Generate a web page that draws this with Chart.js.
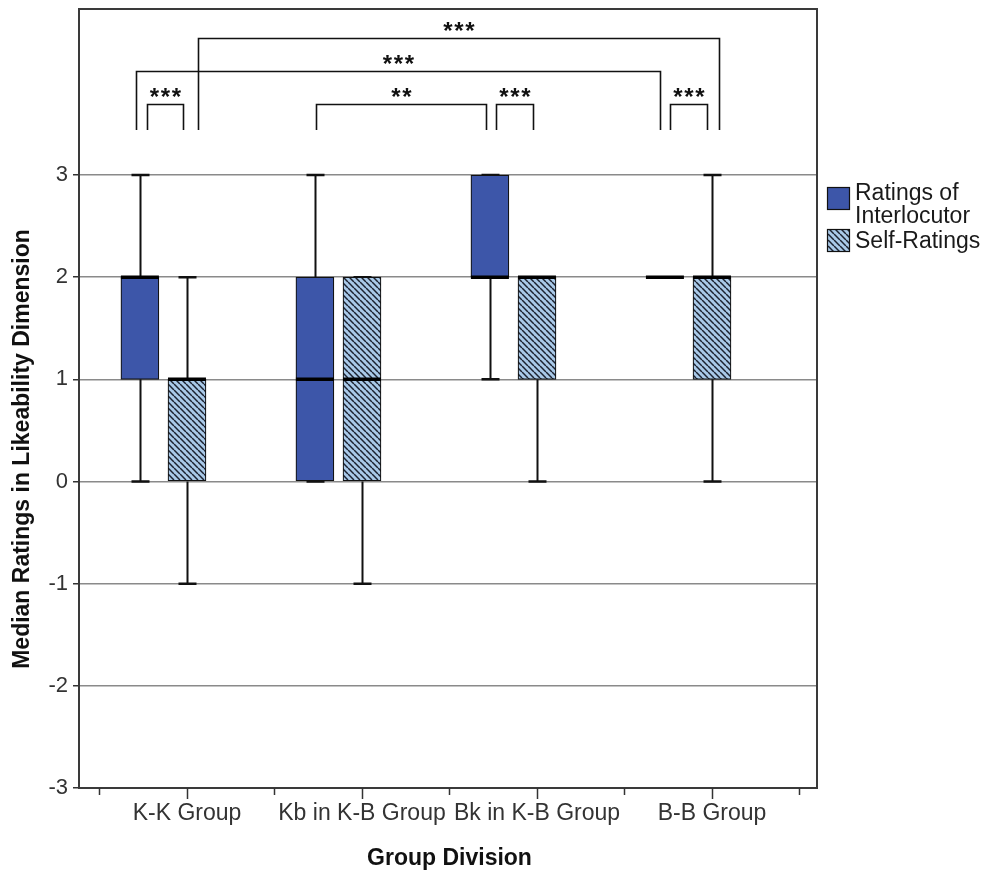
<!DOCTYPE html>
<html><head><meta charset="utf-8">
<script src="https://cdn.jsdelivr.net/npm/chart.js@4.4.1/dist/chart.umd.min.js"></script>
<style>html,body{margin:0;padding:0;background:#fff}#wrap{width:987px;height:870px;position:relative}</style>
</head><body><div id="wrap"><canvas id="c" width="987" height="870"></canvas></div>
<script>
// ---- data ----
const categories = ['K-K Group', 'Kb in K-B Group', 'Bk in K-B Group', 'B-B Group'];
const seriesNames = ['Ratings of Interlocutor', 'Self-Ratings'];
const interMin    = [0, 0, 1, 2];
const interQ1     = [1, 0, 2, 2];
const interMedian = [2, 1, 2, 2];
const interQ3     = [2, 2, 3, 2];
const interMax    = [3, 3, 3, 2];
const selfMin     = [-1, -1, 0, 0];
const selfQ1      = [0, 0, 1, 1];
const selfMedian  = [1, 1, 2, 2];
const selfQ3      = [1, 2, 2, 2];
const selfMax     = [2, 2, 2, 3];
const yTickValues = [-3, -2, -1, 0, 1, 2, 3];
// significance brackets (x in category units, y in rating units)
const bracketLeft   = [0.771, 0.709, 1.063, 1.737, 2.766, 3.760];
const bracketRight  = [0.977, 3.703, 4.040, 2.709, 2.977, 3.971];
const bracketTop    = [3.695, 4.018, 4.340, 3.695, 3.695, 3.695];
const bracketBottom = 3.44;
const bracketLabels = ['***', '***', '***', '**', '***', '***'];

// ---- styling ----
const FONT = '"Liberation Sans", Arial, Helvetica, sans-serif';
const BLUE = '#3d56a9';
const interOffset = -0.269;
const boxWidth = 38;

function makeHatch() {
  const s = 6;
  const c = document.createElement('canvas');
  c.width = s; c.height = s;
  const g = c.getContext('2d');
  g.fillStyle = '#a9c9e8';
  g.fillRect(0, 0, s, s);
  g.strokeStyle = '#1c2230';
  g.lineWidth = 1.5;
  for (const k of [-s, 0, s]) {
    g.beginPath(); g.moveTo(k, 0); g.lineTo(k + s, s); g.stroke();
  }
  return g.createPattern(c, 'repeat');
}
const HATCH = makeHatch();

const series = [
  { pos: i => i + 1 + interOffset, min: interMin, q1: interQ1, med: interMedian, q3: interQ3, max: interMax },
  { pos: i => i + 1, min: selfMin, q1: selfQ1, med: selfMedian, q3: selfQ3, max: selfMax }
];

const extras = {
  id: 'extras',
  beforeDatasetsDraw(chart) {
    const ctx = chart.ctx, xs = chart.scales.x, ys = chart.scales.y;
    ctx.save();
    ctx.strokeStyle = '#111';
    series.forEach(s => {
      categories.forEach((c, i) => {
        const x = Math.round(xs.getPixelForValue(s.pos(i))) + 0.5;
        ctx.lineWidth = 2;
        ctx.beginPath();
        if (s.min[i] < s.q1[i]) { ctx.moveTo(x, ys.getPixelForValue(s.min[i])); ctx.lineTo(x, ys.getPixelForValue(s.q1[i])); }
        if (s.max[i] > s.q3[i]) { ctx.moveTo(x, ys.getPixelForValue(s.q3[i])); ctx.lineTo(x, ys.getPixelForValue(s.max[i])); }
        ctx.stroke();
        ctx.lineWidth = 2.5;
        ctx.beginPath();
        [s.min[i], s.max[i]].forEach(v => {
          const y = ys.getPixelForValue(v);
          ctx.moveTo(x - 9, y); ctx.lineTo(x + 9, y);
        });
        ctx.stroke();
      });
    });
    ctx.restore();
  },
  afterDatasetsDraw(chart) {
    const ctx = chart.ctx, xs = chart.scales.x, ys = chart.scales.y;
    ctx.save();
    ctx.strokeStyle = '#000';
    ctx.lineWidth = 3.5;
    series.forEach(s => {
      categories.forEach((c, i) => {
        const x = xs.getPixelForValue(s.pos(i));
        const y = ys.getPixelForValue(s.med[i]);
        ctx.beginPath(); ctx.moveTo(x - boxWidth / 2, y); ctx.lineTo(x + boxWidth / 2, y); ctx.stroke();
      });
    });
    ctx.restore();
  },
  afterDraw(chart) {
    const ctx = chart.ctx, xs = chart.scales.x, ys = chart.scales.y, a = chart.chartArea;
    ctx.save();
    // frame
    ctx.strokeStyle = '#3a3a3a';
    ctx.lineWidth = 2;
    ctx.strokeRect(a.left, a.top, a.right - a.left, a.bottom - a.top);
    // x tick marks
    ctx.lineWidth = 1.5;
    ctx.strokeStyle = '#333';
    for (let v = 0.5; v <= 4.51; v += 0.5) {
      const x = Math.round(xs.getPixelForValue(v)) + 0.5;
      const len = Number.isInteger(v) ? 11 : 7;
      ctx.beginPath(); ctx.moveTo(x, a.bottom); ctx.lineTo(x, a.bottom + len); ctx.stroke();
    }
    // brackets
    ctx.strokeStyle = '#111';
    ctx.lineWidth = 1.6;
    ctx.fillStyle = '#111';
    ctx.font = 'bold 24px ' + FONT;
    ctx.textAlign = 'center';
    ctx.textBaseline = 'alphabetic';
    const m = ctx.measureText('*');
    const starShift = (m.actualBoundingBoxDescent - m.actualBoundingBoxAscent) / 2;
    bracketLabels.forEach((lab, k) => {
      const x1 = Math.round(xs.getPixelForValue(bracketLeft[k])) + 0.5;
      const x2 = Math.round(xs.getPixelForValue(bracketRight[k])) + 0.5;
      const yt = Math.round(ys.getPixelForValue(bracketTop[k])) + 0.5;
      const yb = ys.getPixelForValue(bracketBottom);
      ctx.beginPath();
      ctx.moveTo(x1, yb); ctx.lineTo(x1, yt); ctx.lineTo(x2, yt); ctx.lineTo(x2, yb);
      ctx.stroke();
      const cx = (x1 + x2) / 2, cy = yt - 12;
      const n = lab.length, sp = 11;
      for (let j = 0; j < n; j++) {
        ctx.fillText('*', cx + (j - (n - 1) / 2) * sp, cy - starShift);
      }
    });
    // axis titles
    ctx.fillStyle = '#111';
    ctx.font = 'bold 23px ' + FONT;
    ctx.textAlign = 'center';
    ctx.fillText('Group Division', 449.5, 865);
    ctx.save();
    ctx.translate(29, 449);
    ctx.rotate(-Math.PI / 2);
    ctx.fillText('Median Ratings in Likeability Dimension', 0, 0);
    ctx.restore();
    // legend
    ctx.lineWidth = 1.2;
    ctx.strokeStyle = '#111';
    ctx.fillStyle = BLUE;
    ctx.fillRect(827, 187, 23, 23);
    ctx.strokeRect(827.5, 187.5, 22, 22);
    ctx.fillStyle = HATCH;
    ctx.fillRect(827, 229, 23, 23);
    ctx.strokeRect(827.5, 229.5, 22, 22);
    ctx.fillStyle = '#1a1a1a';
    ctx.font = '23px ' + FONT;
    ctx.textAlign = 'left';
    ctx.fillText('Ratings of', 855, 200);
    ctx.fillText('Interlocutor', 855, 223);
    ctx.fillText(seriesNames[1], 855, 248);
    ctx.restore();
  }
};

new Chart(document.getElementById('c'), {
  type: 'bar',
  data: {
    datasets: [
      {
        label: seriesNames[0],
        data: categories.map((c, i) => ({ x: i + 1 + interOffset, y: [interQ1[i], interQ3[i]] })),
        backgroundColor: BLUE, borderColor: '#111', borderWidth: 1.2, borderSkipped: false
      },
      {
        label: seriesNames[1],
        data: categories.map((c, i) => ({ x: i + 1, y: [selfQ1[i], selfQ3[i]] })),
        backgroundColor: HATCH, borderColor: '#111', borderWidth: 1.2, borderSkipped: false
      }
    ]
  },
  options: {
    responsive: false,
    devicePixelRatio: 1,
    animation: false,
    grouped: false,
    barThickness: boxWidth,
    layout: { padding: { left: 0, right: 170, top: 9, bottom: 0 } },
    plugins: { legend: { display: false }, tooltip: { enabled: false } },
    scales: {
      x: {
        type: 'linear', min: 0.383, max: 4.6, offset: false,
        afterFit(s) { s.height = 82; s.paddingLeft = 0; s.paddingRight = 0; },
        grid: { drawOnChartArea: false, tickLength: 8, tickColor: 'transparent', offset: false },
        border: { display: false },
        ticks: {
          stepSize: 0.5, includeBounds: false, autoSkip: false, minRotation: 0, maxRotation: 0,
          padding: 4, color: '#333', font: { family: FONT, size: 23 },
          callback: v => Number.isInteger(v) ? categories[v - 1] : ''
        }
      },
      y: {
        type: 'linear', min: -3, max: 4.625,
        afterFit(s) { s.width = 79; s.paddingTop = 0; s.paddingBottom = 0; },
        afterBuildTicks(s) { s.ticks = yTickValues.map(v => ({ value: v })); },
        grid: {
          color: c => (c.tick && c.tick.value > -3) ? '#8a8a8a' : 'transparent',
          lineWidth: 1.5, tickLength: 6, tickColor: '#333'
        },
        border: { display: false },
        ticks: { padding: 5, color: '#333', font: { family: FONT, size: 22 } }
      }
    }
  },
  plugins: [extras]
});
</script></body></html>
